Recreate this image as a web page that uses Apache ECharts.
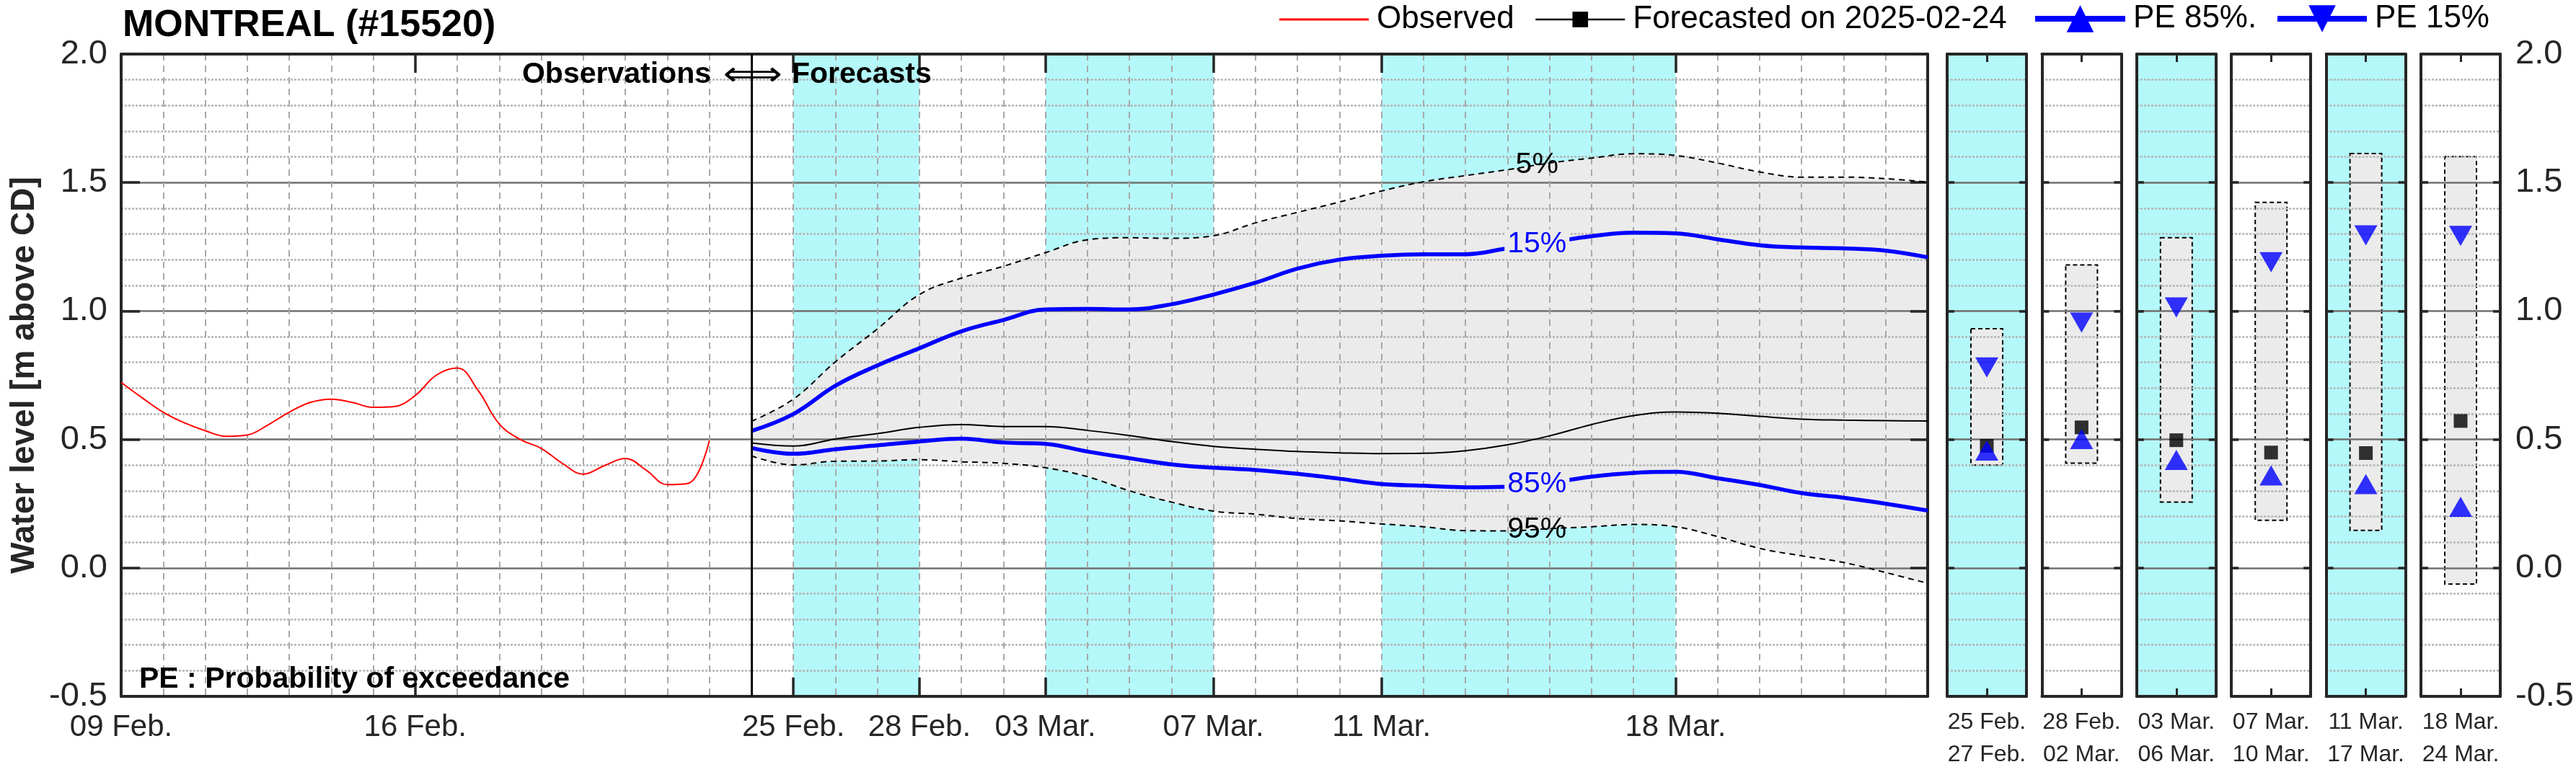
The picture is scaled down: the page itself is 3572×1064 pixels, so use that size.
<!DOCTYPE html>
<html>
<head>
<meta charset="utf-8">
<script src="https://cdn.jsdelivr.net/npm/echarts@6/dist/echarts.min.js"></script>
<style>html,body{margin:0;padding:0;background:#fff}#c{width:3572px;height:1064px}</style>
</head>
<body>
<div id="c"></div>
<script>
// ---------------- DATA ----------------
const chartTitle = 'MONTREAL (#15520)';
const forecastDate = '2025-02-24';
const yTicks = [-0.5, 0.0, 0.5, 1.0, 1.5, 2.0];
// day index: 0 = 09 Feb. 2025
const mainTickDays   = [0, 7, 16, 19, 22, 26, 30, 37];
const mainTickLabels = ['09 Feb.', '16 Feb.', '25 Feb.', '28 Feb.', '03 Mar.', '07 Mar.', '11 Mar.', '18 Mar.'];

const obsDay = [0, 0.5, 1, 1.5, 2, 2.5, 3, 3.5, 4, 4.5, 5, 5.5, 6, 6.5, 7, 7.5, 8, 8.5, 9, 9.5, 10, 10.5, 11, 11.5, 12, 12.5, 13, 13.5, 14];
const obsVal = [0.722, 0.662, 0.606, 0.565, 0.534, 0.512, 0.517, 0.557, 0.606, 0.644, 0.657, 0.644, 0.625, 0.628, 0.671, 0.750, 0.778, 0.690, 0.560, 0.500, 0.465, 0.407, 0.365, 0.398, 0.426, 0.380, 0.324, 0.329, 0.495];

const fcDay  = [15, 16, 17, 18, 19, 20, 21, 22, 23, 24, 25, 26, 27, 28, 29, 30, 31, 32, 33, 34, 35, 36, 37, 38, 39, 40, 41, 42, 43];
const pe5    = [0.570, 0.657, 0.802, 0.930, 1.064, 1.128, 1.174, 1.227, 1.277, 1.285, 1.283, 1.293, 1.343, 1.384, 1.424, 1.467, 1.503, 1.527, 1.550, 1.576, 1.595, 1.612, 1.605, 1.576, 1.541, 1.521, 1.521, 1.515, 1.502];
const pe15   = [0.533, 0.599, 0.709, 0.788, 0.855, 0.921, 0.965, 1.006, 1.008, 1.006, 1.026, 1.064, 1.110, 1.165, 1.200, 1.215, 1.221, 1.221, 1.244, 1.267, 1.291, 1.305, 1.302, 1.279, 1.256, 1.247, 1.244, 1.235, 1.209];
const median = [0.486, 0.474, 0.502, 0.523, 0.547, 0.558, 0.550, 0.550, 0.535, 0.515, 0.492, 0.473, 0.462, 0.453, 0.448, 0.445, 0.446, 0.456, 0.479, 0.514, 0.558, 0.593, 0.607, 0.602, 0.590, 0.579, 0.575, 0.573, 0.572];
const pe85   = [0.467, 0.444, 0.462, 0.477, 0.492, 0.503, 0.488, 0.483, 0.453, 0.427, 0.403, 0.390, 0.381, 0.366, 0.347, 0.326, 0.320, 0.314, 0.316, 0.331, 0.355, 0.370, 0.374, 0.349, 0.323, 0.291, 0.273, 0.250, 0.223];
const pe95   = [0.436, 0.401, 0.415, 0.416, 0.421, 0.413, 0.407, 0.390, 0.355, 0.300, 0.256, 0.221, 0.209, 0.192, 0.183, 0.171, 0.160, 0.145, 0.144, 0.153, 0.160, 0.169, 0.160, 0.122, 0.076, 0.047, 0.021, -0.018, -0.060];

// summary periods
const periodStartDay = [16, 19, 22, 26, 30, 37];
const periodEndDay   = [19, 22, 26, 30, 37, 44];
const periodShaded   = [true, false, true, false, true, false];
const periodLabelTop = ['25 Feb.', '28 Feb.', '03 Mar.', '07 Mar.', '11 Mar.', '18 Mar.'];
const periodLabelBot = ['27 Feb.', '02 Mar.', '06 Mar.', '10 Mar.', '17 Mar.', '24 Mar.'];
const periodHi  = [0.931, 1.179, 1.285, 1.423, 1.613, 1.601];
const periodLo  = [0.400, 0.408, 0.256, 0.185, 0.146, -0.063];
const periodMed = [0.475, 0.547, 0.497, 0.449, 0.447, 0.572];
const period15  = [0.780, 0.955, 1.014, 1.190, 1.294, 1.292];
const period85  = [0.457, 0.502, 0.420, 0.360, 0.326, 0.238];

// ---------------- STYLE / LAYOUT ----------------
const FONT = '"Liberation Sans", Arial, Helvetica, sans-serif';
const INK = '#262626';
const CYAN = '#b4f8fa';
const FILL = '#ebebeb';
const BLUE = '#0000ff';
const Y_MIN = yTicks[0], Y_MAX = yTicks[yTicks.length - 1], Y_STEP = yTicks[1] - yTicks[0];
const X_MIN = 0, X_MAX = fcDay[fcDay.length - 1];
const PLOT_TOP = 75, PLOT_H = 891;
const LABEL_DAY = 33.7;
const SMOOTH = 0.4;

const pairs = (xs, ys) => xs.map((x, i) => [x, ys[i]]);
function interpAt(xs, ys, x) {
  for (let i = 0; i < xs.length - 1; i++) {
    if (x >= xs[i] && x <= xs[i + 1]) {
      const t = (x - xs[i]) / (xs[i + 1] - xs[i]);
      return ys[i] + t * (ys[i + 1] - ys[i]);
    }
  }
  return ys[ys.length - 1];
}
// same bezier construction as ECharts' smoothed line, so the fill edges follow the curves
function smoothSeg(pts, smooth, move) {
  let s = (move ? 'M' : 'L') + pts[0][0] + ' ' + pts[0][1];
  let cpx0 = pts[0][0], cpy0 = pts[0][1];
  for (let i = 1; i < pts.length; i++) {
    const x = pts[i][0], y = pts[i][1], px = pts[i - 1][0], py = pts[i - 1][1];
    let cpx1, cpy1, ncx = x, ncy = y;
    if (i === pts.length - 1) { cpx1 = x; cpy1 = y; }
    else {
      const nx = pts[i + 1][0], ny = pts[i + 1][1];
      let vx = nx - px, vy = ny - py;
      const l0 = Math.hypot(x - px, y - py), l1 = Math.hypot(nx - x, ny - y);
      const r = l1 / (l0 + l1);
      ncx = x + vx * smooth * r; ncy = y + vy * smooth * r;
      ncx = Math.min(ncx, Math.max(nx, x)); ncy = Math.min(ncy, Math.max(ny, y));
      ncx = Math.max(ncx, Math.min(nx, x)); ncy = Math.max(ncy, Math.min(ny, y));
      vx = ncx - x; vy = ncy - y;
      cpx1 = x - vx * l0 / l1; cpy1 = y - vy * l0 / l1;
      cpx1 = Math.min(cpx1, Math.max(px, x)); cpy1 = Math.min(cpy1, Math.max(py, y));
      cpx1 = Math.max(cpx1, Math.min(px, x)); cpy1 = Math.max(cpy1, Math.min(py, y));
      vx = x - cpx1; vy = y - cpy1;
      ncx = x + vx * l1 / l0; ncy = y + vy * l1 / l0;
    }
    s += ' C' + cpx0 + ' ' + cpy0 + ' ' + cpx1 + ' ' + cpy1 + ' ' + x + ' ' + y;
    cpx0 = ncx; cpy0 = ncy;
  }
  return s;
}

const frame = { show: true, onZero: false, lineStyle: { color: INK, width: 4 } };
const majorSplit = { show: true, lineStyle: { color: '#707070', width: 2.5 } };
const minorSplit = { show: true, lineStyle: { color: '#b4b4b4', width: 2.5, type: [3, 2] } };

const grids = [{ left: 168, top: PLOT_TOP, width: 2505, height: PLOT_H, show: false, outerBoundsMode: 'none' }];
const xAxes = [
  { gridIndex: 0, type: 'value', min: X_MIN, max: X_MAX, interval: 1, position: 'bottom', z: 2,
    axisLine: frame,
    axisTick: { show: true, inside: true, length: 26, customValues: mainTickDays, lineStyle: { color: INK, width: 3.5 } },
    axisLabel: { show: true, customValues: mainTickDays, margin: 22, fontSize: 42, color: INK, fontFamily: FONT,
      formatter: v => mainTickLabels[mainTickDays.indexOf(v)] || '' },
    splitLine: { show: false } },
  { gridIndex: 0, type: 'value', min: X_MIN, max: X_MAX, interval: 1, position: 'top', z: 2,
    axisLine: frame,
    axisTick: { show: true, inside: true, length: 26, customValues: mainTickDays, lineStyle: { color: INK, width: 3.5 } },
    axisLabel: { show: false }, splitLine: { show: false } },
  // daily dashed grid
  { gridIndex: 0, type: 'value', min: X_MIN, max: X_MAX, interval: 1, position: 'bottom', z: 2,
    axisLine: { show: false }, axisTick: { show: false }, axisLabel: { show: false },
    splitLine: { show: true, lineStyle: { color: '#a8a8a8', width: 2, type: [9, 7] } } }
];
const yAxes = [
  { gridIndex: 0, type: 'value', min: Y_MIN, max: Y_MAX, interval: Y_STEP, position: 'left', z: 2,
    axisLine: frame,
    axisTick: { show: true, inside: true, length: 26, lineStyle: { color: INK, width: 3.5 } },
    axisLabel: { show: true, margin: 19, fontSize: 47, color: INK, fontFamily: FONT, formatter: v => v.toFixed(1) },
    splitLine: majorSplit, minorTick: { show: false, splitNumber: 5 }, minorSplitLine: minorSplit,
    name: 'Water level [m above CD]', nameLocation: 'middle', nameGap: 108,
    nameTextStyle: { fontSize: 46, fontWeight: 'bold', color: INK, fontFamily: FONT } },
  { gridIndex: 0, type: 'value', min: Y_MIN, max: Y_MAX, interval: Y_STEP, position: 'right', z: 2,
    axisLine: frame,
    axisTick: { show: true, inside: true, length: 24, lineStyle: { color: INK, width: 3.5 } },
    axisLabel: { show: false }, splitLine: { show: false } }
];

const series = [];
// cyan bands in main plot
const shadedBands = periodStartDay.map((s, i) => [s, periodEndDay[i]]).filter((b, i) => periodShaded[i]);
series.push({
  type: 'custom', xAxisIndex: 0, yAxisIndex: 0, z: 0, silent: true, clip: true,
  data: shadedBands,
  renderItem: (p, api) => {
    const a = api.coord([api.value(0), Y_MAX]);
    const b = api.coord([Math.min(api.value(1), X_MAX), Y_MIN]);
    return { type: 'rect', shape: { x: a[0], y: a[1], width: b[0] - a[0], height: b[1] - a[1] }, style: { fill: CYAN } };
  }
});
// grey 5%-95% envelope
series.push({
  type: 'custom', xAxisIndex: 0, yAxisIndex: 0, z: 1, silent: true, clip: true,
  data: [[fcDay[0]]],
  renderItem: (p, api) => {
    const top = fcDay.map((d, i) => api.coord([d, pe5[i]]));
    const bot = fcDay.map((d, i) => api.coord([d, pe95[i]])).reverse();
    return { type: 'path', shape: { pathData: smoothSeg(top, SMOOTH, true) + ' ' + smoothSeg(bot, SMOOTH, false) + ' Z' },
      style: { fill: FILL, stroke: null } };
  }
});
// observed
series.push({ type: 'line', name: 'Observed', xAxisIndex: 0, yAxisIndex: 0, z: 4, silent: true,
  data: pairs(obsDay, obsVal), smooth: SMOOTH, symbol: 'none',
  itemStyle: { color: '#ff0000' }, lineStyle: { color: '#ff0000', width: 2 } });
// 95% line
series.push({ type: 'line', name: 'PE 95', xAxisIndex: 0, yAxisIndex: 0, z: 4, silent: true,
  data: pairs(fcDay, pe95), smooth: SMOOTH, symbol: 'none',
  lineStyle: { color: '#000', width: 2, type: [8, 6] },
  markPoint: { symbol: 'circle', symbolSize: 1, itemStyle: { color: 'rgba(0,0,0,0)' }, silent: true,
    data: [{ coord: [LABEL_DAY, interpAt(fcDay, pe95, LABEL_DAY)] }],
    label: { show: true, position: 'inside', formatter: '95%', fontSize: 41, color: '#000', fontFamily: FONT } } });
// 5% line
series.push({ type: 'line', name: 'PE 5', xAxisIndex: 0, yAxisIndex: 0, z: 4, silent: true,
  data: pairs(fcDay, pe5), smooth: SMOOTH, symbol: 'none',
  lineStyle: { color: '#000', width: 2, type: [8, 6] },
  markPoint: { symbol: 'circle', symbolSize: 1, itemStyle: { color: 'rgba(0,0,0,0)' }, silent: true,
    data: [{ coord: [LABEL_DAY, interpAt(fcDay, pe5, LABEL_DAY)] }],
    label: { show: true, position: 'inside', formatter: '5%', fontSize: 41, color: '#000', fontFamily: FONT } } });
// median
series.push({ type: 'line', name: 'Forecasted on ' + forecastDate, xAxisIndex: 0, yAxisIndex: 0, z: 4, silent: true,
  data: pairs(fcDay, median), smooth: SMOOTH, symbol: 'rect', showSymbol: false,
  itemStyle: { color: '#000' }, lineStyle: { color: '#000', width: 2 },
  markLine: { silent: true, symbol: 'none', label: { show: false },
    lineStyle: { color: '#000', width: 3, type: 'solid' }, data: [{ xAxis: fcDay[0] }] } });
// PE 85
series.push({ type: 'line', name: 'PE 85%.', xAxisIndex: 0, yAxisIndex: 0, z: 4, silent: true,
  data: pairs(fcDay, pe85), smooth: SMOOTH, symbol: 'triangle', showSymbol: false,
  itemStyle: { color: BLUE }, lineStyle: { color: BLUE, width: 5.5 },
  markPoint: { symbol: 'circle', symbolSize: 1, itemStyle: { color: 'rgba(0,0,0,0)' }, silent: true,
    data: [{ coord: [LABEL_DAY, interpAt(fcDay, pe85, LABEL_DAY)] }],
    label: { show: true, position: 'inside', formatter: '85%', fontSize: 41, color: BLUE, fontFamily: FONT,
      backgroundColor: FILL, padding: [0, 4] } } });
// PE 15
series.push({ type: 'line', name: 'PE 15%', xAxisIndex: 0, yAxisIndex: 0, z: 4, silent: true,
  data: pairs(fcDay, pe15), smooth: SMOOTH, symbol: 'triangle', symbolRotate: 180, showSymbol: false,
  itemStyle: { color: BLUE }, lineStyle: { color: BLUE, width: 5.5 },
  markPoint: { symbol: 'circle', symbolSize: 1, itemStyle: { color: 'rgba(0,0,0,0)' }, silent: true,
    data: [{ coord: [LABEL_DAY, interpAt(fcDay, pe15, LABEL_DAY)] }],
    label: { show: true, position: 'inside', formatter: '15%', fontSize: 41, color: BLUE, fontFamily: FONT,
      backgroundColor: FILL, padding: [0, 4] } } });

// small period panels
for (let i = 0; i < periodHi.length; i++) {
  const gi = i + 1;
  grids.push({ left: 2700 + i * 131.4, top: PLOT_TOP, width: 110, height: PLOT_H,
    show: true, backgroundColor: periodShaded[i] ? CYAN : '#ffffff', borderWidth: 0, outerBoundsMode: 'none' });
  const xb = xAxes.length, yl = yAxes.length;
  xAxes.push({ gridIndex: gi, type: 'value', min: 0, max: 1, position: 'bottom', z: 2,
    axisLine: frame,
    axisTick: { show: true, inside: true, length: 11, customValues: [0.5], lineStyle: { color: INK, width: 3 } },
    axisLabel: { show: true, customValues: [0.5], margin: 14, fontSize: 32, lineHeight: 45, color: INK, fontFamily: FONT,
      formatter: () => periodLabelTop[i] + '\n' + periodLabelBot[i] },
    splitLine: { show: false } });
  xAxes.push({ gridIndex: gi, type: 'value', min: 0, max: 1, position: 'top', z: 2,
    axisLine: frame,
    axisTick: { show: true, inside: true, length: 11, customValues: [0.5], lineStyle: { color: INK, width: 3 } },
    axisLabel: { show: false }, splitLine: { show: false } });
  yAxes.push({ gridIndex: gi, type: 'value', min: Y_MIN, max: Y_MAX, interval: Y_STEP, position: 'left', z: 2,
    axisLine: frame,
    axisTick: { show: true, inside: true, length: 10, lineStyle: { color: INK, width: 3.5 } },
    axisLabel: { show: false },
    splitLine: majorSplit, minorTick: { show: false, splitNumber: 5 }, minorSplitLine: minorSplit });
  yAxes.push({ gridIndex: gi, type: 'value', min: Y_MIN, max: Y_MAX, interval: Y_STEP, position: 'right', z: 2,
    axisLine: frame,
    axisTick: { show: true, inside: true, length: 10, lineStyle: { color: INK, width: 3.5 } },
    axisLabel: { show: i === periodHi.length - 1, margin: 21, fontSize: 47, color: INK, fontFamily: FONT, formatter: v => v.toFixed(1) },
    splitLine: { show: false } });
  series.push({ type: 'custom', xAxisIndex: xb, yAxisIndex: yl, z: 1, silent: true,
    data: [[0.5, periodLo[i], periodHi[i]]],
    renderItem: (p, api) => {
      const x = api.value(0);
      const lo = api.coord([x - 0.2, api.value(1)]);
      const hi = api.coord([x + 0.2, api.value(2)]);
      return { type: 'rect', shape: { x: lo[0], y: hi[1], width: hi[0] - lo[0], height: lo[1] - hi[1] },
        style: { fill: FILL, stroke: '#000', lineWidth: 2, lineDash: [6, 4] } };
    } });
  series.push({ type: 'scatter', name: 'med' + i, xAxisIndex: xb, yAxisIndex: yl, z: 5, silent: true,
    symbol: 'rect', symbolSize: [19, 19], itemStyle: { color: '#000' }, data: [[0.5, periodMed[i]]] });
  series.push({ type: 'scatter', name: 'p85' + i, xAxisIndex: xb, yAxisIndex: yl, z: 6, silent: true,
    symbol: 'triangle', symbolSize: [32, 28], itemStyle: { color: BLUE }, data: [[0.5, period85[i]]] });
  series.push({ type: 'scatter', name: 'p15' + i, xAxisIndex: xb, yAxisIndex: yl, z: 6, silent: true,
    symbol: 'triangle', symbolRotate: 180, symbolSize: [32, 28], itemStyle: { color: BLUE }, data: [[0.5, period15[i]]] });
}

const legendText = { fontSize: 44, color: '#000', fontFamily: FONT, lineHeight: 44, padding: [0, 0, 0, 6] };
const legends = [
  { data: [{ name: 'Observed', icon: 'rect' }], left: 1774, top: 5, itemWidth: 124, itemHeight: 3, padding: 0,
    selectedMode: false, textStyle: legendText },
  { data: ['Forecasted on ' + forecastDate], left: 2128, top: 5, itemWidth: 124, itemHeight: 27, padding: 0,
    selectedMode: false, textStyle: legendText, lineStyle: { width: 2.5 } },
  { data: ['PE 85%.'], left: 2818, top: 4, itemWidth: 125, itemHeight: 47, padding: 0,
    selectedMode: false, textStyle: legendText, lineStyle: { width: 8 } },
  { data: ['PE 15%'], left: 3154, top: 4, itemWidth: 124, itemHeight: 47, padding: 0,
    selectedMode: false, textStyle: legendText, lineStyle: { width: 8 } }
];

const option = {
  animation: false,
  backgroundColor: '#ffffff',
  textStyle: { fontFamily: FONT },
  grid: grids, xAxis: xAxes, yAxis: yAxes, series: series, legend: legends,
  graphic: [
    { type: 'text', x: 170, y: 36, z: 10, style: { text: chartTitle, font: 'bold 52px ' + FONT, fill: '#000', verticalAlign: 'middle', align: 'left' } },
    { type: 'text', x: 986, y: 104, z: 10, style: { text: 'Observations', font: 'bold 41px ' + FONT, fill: '#000', verticalAlign: 'middle', align: 'right' } },
    { type: 'text', x: 1044, y: 106, z: 10, scaleX: 1.25, style: { text: '\u27FA', font: '46px "DejaVu Sans", ' + FONT, fill: '#000', verticalAlign: 'middle', align: 'center' } },
    { type: 'text', x: 1098, y: 104, z: 10, style: { text: 'Forecasts', font: 'bold 41px ' + FONT, fill: '#000', verticalAlign: 'middle', align: 'left' } },
    { type: 'text', x: 193, y: 943, z: 10, style: { text: 'PE : Probability of exceedance', font: 'bold 41px ' + FONT, fill: '#000', verticalAlign: 'middle', align: 'left' } }
  ]
};

const chart = echarts.init(document.getElementById('c'), null, { renderer: 'canvas' });
chart.setOption(option);
</script>
</body>
</html>
